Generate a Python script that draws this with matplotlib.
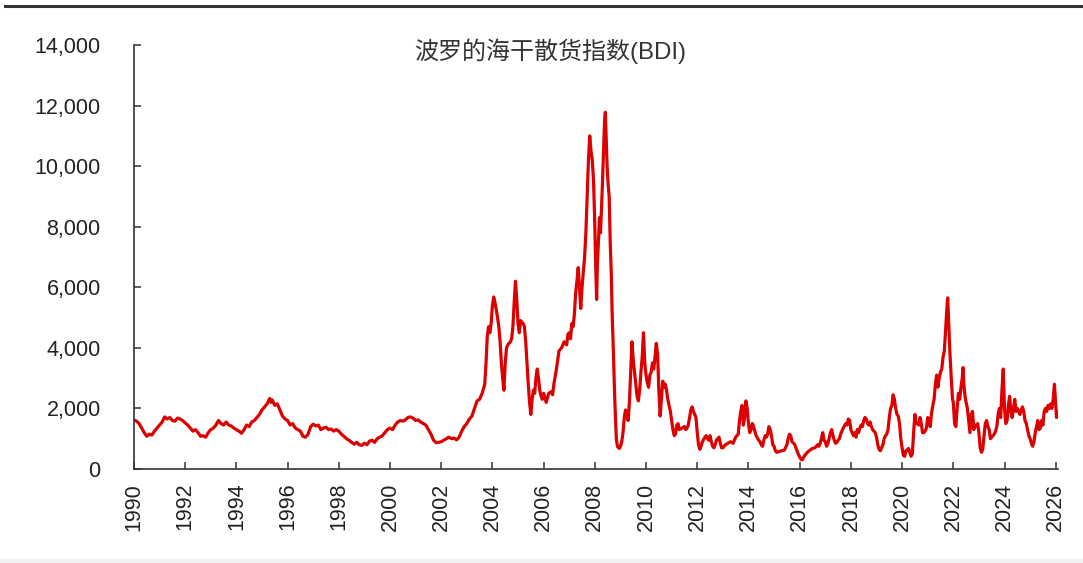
import matplotlib
matplotlib.use("Agg")
import matplotlib.pyplot as plt
from matplotlib.lines import Line2D
from matplotlib.patches import Rectangle

# --- data: BDI (decimal year, index level) ------------------------------------
t = [
    1990.0, 1990.1, 1990.2, 1990.3, 1990.4, 1990.5, 1990.6, 1990.7, 1990.8, 1990.9,
    1991.0, 1991.1, 1991.2, 1991.3, 1991.4, 1991.5, 1991.6, 1991.7, 1991.8, 1991.9,
    1992.0, 1992.1, 1992.2, 1992.3, 1992.4, 1992.5, 1992.6, 1992.7, 1992.8, 1992.9,
    1993.0, 1993.1, 1993.2, 1993.3, 1993.4, 1993.5, 1993.6, 1993.7, 1993.8, 1993.9,
    1994.0, 1994.1, 1994.2, 1994.3, 1994.4, 1994.5, 1994.6, 1994.7, 1994.8, 1994.9,
    1995.0, 1995.1, 1995.2, 1995.3, 1995.35, 1995.4, 1995.5, 1995.6, 1995.7, 1995.8, 1995.9,
    1996.0, 1996.1, 1996.2, 1996.3, 1996.4, 1996.5, 1996.6, 1996.7, 1996.8, 1996.9,
    1997.0, 1997.1, 1997.2, 1997.3, 1997.4, 1997.5, 1997.6, 1997.7, 1997.8, 1997.9,
    1998.0, 1998.1, 1998.2, 1998.3, 1998.4, 1998.5, 1998.6, 1998.7, 1998.8, 1998.9,
    1999.0, 1999.1, 1999.2, 1999.3, 1999.4, 1999.5, 1999.6, 1999.7, 1999.8, 1999.9,
    2000.0, 2000.1, 2000.2, 2000.3, 2000.4, 2000.5, 2000.6, 2000.7, 2000.8, 2000.9,
    2001.0, 2001.1, 2001.2, 2001.3, 2001.4, 2001.5, 2001.6, 2001.7, 2001.8, 2001.9,
    2002.0, 2002.1, 2002.2, 2002.3, 2002.4, 2002.5, 2002.6, 2002.7, 2002.8, 2002.9,
    2003.0, 2003.1, 2003.2, 2003.3, 2003.4, 2003.5, 2003.6, 2003.7, 2003.75, 2003.8, 2003.85, 2003.9, 2003.95,
    2004.0, 2004.05, 2004.1, 2004.15, 2004.2, 2004.25, 2004.3, 2004.35, 2004.4, 2004.45,
    2004.5, 2004.55, 2004.6, 2004.7, 2004.75, 2004.8, 2004.85, 2004.9, 2004.95,
    2005.0, 2005.05, 2005.1, 2005.2, 2005.25, 2005.3, 2005.35, 2005.4, 2005.45, 2005.5,
    2005.55, 2005.6, 2005.65, 2005.7, 2005.75, 2005.8, 2005.85, 2005.9, 2005.95,
    2006.0, 2006.1, 2006.2, 2006.3, 2006.35, 2006.4, 2006.5, 2006.6, 2006.7, 2006.8, 2006.9, 2006.95,
    2007.0, 2007.05, 2007.1, 2007.15, 2007.2, 2007.25, 2007.3, 2007.35, 2007.4, 2007.45,
    2007.5, 2007.55, 2007.6, 2007.65, 2007.7, 2007.75, 2007.8, 2007.85, 2007.9, 2007.95,
    2008.0, 2008.04, 2008.07, 2008.1, 2008.14, 2008.18, 2008.22, 2008.26, 2008.3, 2008.34, 2008.38, 2008.41, 2008.44,
    2008.48, 2008.52, 2008.56, 2008.6, 2008.64, 2008.68, 2008.72, 2008.76, 2008.8, 2008.84, 2008.88, 2008.92, 2008.96,
    2009.0, 2009.05, 2009.1, 2009.15, 2009.2, 2009.25, 2009.3, 2009.35, 2009.4, 2009.45,
    2009.5, 2009.55, 2009.6, 2009.65, 2009.7, 2009.75, 2009.8, 2009.85, 2009.9, 2009.95,
    2010.0, 2010.05, 2010.1, 2010.15, 2010.2, 2010.25, 2010.3, 2010.35, 2010.4, 2010.45,
    2010.5, 2010.55, 2010.6, 2010.65, 2010.7, 2010.75, 2010.8, 2010.85, 2010.9, 2010.95,
    2011.0, 2011.05, 2011.1, 2011.15, 2011.2, 2011.25, 2011.3, 2011.4, 2011.5, 2011.55,
    2011.6, 2011.65, 2011.7, 2011.75, 2011.8, 2011.85, 2011.9, 2011.95,
    2012.0, 2012.05, 2012.1, 2012.15, 2012.2, 2012.3, 2012.35, 2012.4, 2012.45, 2012.5,
    2012.55, 2012.6, 2012.65, 2012.7, 2012.75, 2012.8, 2012.85, 2012.9, 2012.95,
    2013.0, 2013.1, 2013.2, 2013.3, 2013.4, 2013.5, 2013.55, 2013.6, 2013.65, 2013.7,
    2013.75, 2013.8, 2013.85, 2013.9, 2013.95,
    2014.0, 2014.05, 2014.1, 2014.15, 2014.2, 2014.3, 2014.4, 2014.45, 2014.5, 2014.55,
    2014.6, 2014.65, 2014.7, 2014.75, 2014.8, 2014.85, 2014.9, 2014.95,
    2015.0, 2015.05, 2015.1, 2015.15, 2015.2, 2015.3, 2015.4, 2015.5, 2015.55, 2015.6,
    2015.65, 2015.7, 2015.8, 2015.85, 2015.9, 2015.95,
    2016.0, 2016.05, 2016.1, 2016.15, 2016.2, 2016.3, 2016.4, 2016.5, 2016.6, 2016.7,
    2016.75, 2016.8, 2016.85, 2016.9, 2016.95,
    2017.0, 2017.05, 2017.1, 2017.15, 2017.2, 2017.25, 2017.3, 2017.35, 2017.4, 2017.45,
    2017.5, 2017.55, 2017.6, 2017.7, 2017.8, 2017.85, 2017.9, 2017.95,
    2018.0, 2018.05, 2018.1, 2018.15, 2018.2, 2018.25, 2018.3, 2018.35, 2018.4, 2018.45,
    2018.5, 2018.55, 2018.6, 2018.65, 2018.7, 2018.75, 2018.8, 2018.85, 2018.9, 2018.95,
    2019.0, 2019.05, 2019.1, 2019.15, 2019.2, 2019.25, 2019.3, 2019.35, 2019.4, 2019.45,
    2019.5, 2019.55, 2019.6, 2019.65, 2019.7, 2019.75, 2019.8, 2019.85, 2019.9, 2019.95,
    2020.0, 2020.05, 2020.1, 2020.15, 2020.2, 2020.25, 2020.3, 2020.35, 2020.4, 2020.45,
    2020.5, 2020.55, 2020.6, 2020.65, 2020.7, 2020.75, 2020.8, 2020.85, 2020.9, 2020.95,
    2021.0, 2021.05, 2021.1, 2021.15, 2021.2, 2021.25, 2021.3, 2021.35, 2021.4, 2021.45,
    2021.5, 2021.55, 2021.6, 2021.65, 2021.7, 2021.75, 2021.78, 2021.82, 2021.87, 2021.92, 2021.97,
    2022.0, 2022.05, 2022.1, 2022.15, 2022.2, 2022.25, 2022.3, 2022.35, 2022.38, 2022.42,
    2022.46, 2022.5, 2022.55, 2022.6, 2022.65, 2022.7, 2022.75, 2022.8, 2022.85, 2022.9, 2022.95,
    2023.0, 2023.05, 2023.1, 2023.15, 2023.2, 2023.25, 2023.3, 2023.35, 2023.4, 2023.45,
    2023.5, 2023.55, 2023.6, 2023.65, 2023.7, 2023.75, 2023.8, 2023.85, 2023.9, 2023.95,
    2024.0, 2024.05, 2024.1, 2024.15, 2024.2, 2024.25, 2024.3, 2024.35, 2024.4, 2024.45,
    2024.5, 2024.55, 2024.6, 2024.65, 2024.7, 2024.75, 2024.8, 2024.85, 2024.9, 2024.95,
    2025.0, 2025.05, 2025.1, 2025.15, 2025.2, 2025.25, 2025.3, 2025.35, 2025.4, 2025.45,
    2025.5, 2025.55, 2025.6, 2025.65, 2025.7, 2025.75, 2025.8, 2025.85, 2025.9, 2025.95,
    2026.0, 2026.03, 2026.06,
]
bdi = [
    1620, 1580, 1500, 1350, 1200, 1080, 1150, 1120, 1250, 1350,
    1450, 1550, 1720, 1650, 1700, 1600, 1580, 1680, 1650, 1600,
    1520, 1450, 1350, 1250, 1300, 1200, 1080, 1100, 1050, 1200,
    1300, 1350, 1450, 1600, 1500, 1450, 1550, 1450, 1420, 1350,
    1300, 1250, 1180, 1300, 1450, 1400, 1550, 1600, 1700, 1800,
    1950, 2050, 2150, 2330, 2200, 2280, 2100, 2150, 1950, 1750, 1650,
    1600, 1450, 1500, 1350, 1300, 1250, 1080, 1050, 1150, 1400,
    1480, 1420, 1450, 1300, 1350, 1380, 1300, 1320, 1250, 1300,
    1250, 1150, 1080, 1000, 950, 880, 820, 880, 800, 780,
    850, 800, 920, 950, 880, 1000, 1050, 1100, 1200, 1300,
    1350, 1300, 1450, 1550, 1600, 1580, 1620, 1700, 1720, 1680,
    1600, 1620, 1550, 1500, 1450, 1300, 1150, 950, 870, 880,
    900, 950, 1000, 1050, 1000, 1020, 960, 1050, 1250, 1400,
    1500, 1650, 1750, 2000, 2250, 2300, 2500, 2800, 3500, 4400, 4700, 4500, 4800,
    5400, 5680, 5500, 5250, 5000, 4700, 4200, 3500, 3000, 2600,
    3500, 4000, 4100, 4200, 4300, 4700, 5500, 6200, 5600,
    4800, 4500, 4900, 4800, 4700, 4200, 3500, 2800, 2200, 1800,
    2300, 2600, 2500, 3000, 3300, 3000, 2600, 2400, 2300,
    2500, 2200, 2500, 2550, 2450, 2800, 3300, 3900, 4000, 4200, 4100, 4450,
    4500, 4300, 4800, 4700, 5100, 5800, 6200, 6650, 6000, 5300,
    6000, 6500, 7000, 7800, 9000, 10200, 11000, 10500, 10200, 9500,
    8000, 6500, 5600, 6800, 7500, 8300, 7800, 8600, 9500, 10500, 11500, 11780, 11000,
    10000, 9400, 9000, 7500, 6500, 5000, 4000, 2800, 1800, 1000, 750, 700, 680,
    750, 900, 1200, 1700, 1950, 1800, 1600, 2200, 3200, 4200,
    3600, 3200, 2800, 2400, 2250, 2600, 3200, 3700, 4500, 3500,
    3100, 2850, 2700, 3100, 3200, 3500, 3300, 3700, 4150, 3800,
    2600, 1750, 2300, 2900, 2700, 2800, 2600, 2300, 2100, 1900,
    1600, 1300, 1100, 1150, 1450, 1500, 1300, 1350, 1400, 1300,
    1350, 1450, 1700, 1950, 2050, 1900, 1800, 1700,
    1200, 800, 650, 750, 900, 1050, 1100, 1000, 950, 1100,
    900, 750, 700, 800, 950, 1000, 1050, 850, 700,
    700, 800, 850, 900, 850, 1050, 1100, 1150, 1600, 1900,
    2100, 1450, 1700, 2250, 2000,
    1500, 1200, 1300, 1500, 1400, 1100, 950, 900, 800, 750,
    950, 1100, 1050, 1150, 1400, 1300, 1100, 800,
    750, 600, 550, 560, 580, 600, 620, 800, 1000, 1150,
    1100, 900, 820, 700, 600, 480,
    400, 320, 300, 380, 450, 550, 620, 680, 700, 800,
    750, 850, 1000, 1200, 950,
    900, 750, 850, 1000, 1200, 1300, 1100, 950, 850, 880,
    950, 1000, 1150, 1350, 1500, 1450, 1650, 1600,
    1300, 1200, 1100, 1200, 1050, 1300, 1200, 1350, 1450, 1400,
    1600, 1700, 1650, 1500, 1450, 1550, 1400, 1300, 1250, 1200,
    1050, 800, 650, 600, 700, 800, 1000, 1100, 1150, 1300,
    1700, 2000, 2100, 2450, 2300, 2000, 1800, 1750, 1500, 1000,
    700, 450, 420, 600, 620, 680, 550, 420, 500, 1200,
    1800, 1500, 1500, 1450, 1700, 1500, 1200, 1200, 1250, 1350,
    1700, 1600, 1400, 1850, 2100, 2300, 2800, 3100, 2700, 3000,
    3200, 3300, 3700, 3900, 4600, 5300, 5650, 4800, 3800, 3000, 2300,
    2200, 1500, 1400, 2000, 2500, 2300, 2700, 3000, 3350, 2700,
    2400, 2200, 2000, 1600, 1200, 1800, 1900, 1300, 1450, 1400, 1500,
    1200, 700, 550, 650, 1100, 1500, 1600, 1400, 1300, 1000,
    1050, 1100, 1150, 1250, 1400, 1800, 2000, 1700, 2600, 3300,
    2000, 1500, 1600, 2100, 2400, 1900, 1700, 2000, 2300, 1900,
    2000, 1900, 1800, 1950, 2050, 1900, 1600, 1500, 1300, 1100,
    1000, 850, 750, 900, 1200, 1400, 1600, 1300, 1350, 1600,
    1450, 1900, 2000, 1900, 2100, 2000, 2150, 2000, 2300, 2800,
    2100, 1700, 1900,
]

x_ticks = list(range(1990, 2027, 2))
y_ticks = list(range(0, 14001, 2000))
title = "波罗的海干散货指数(BDI)"

# --- figure -------------------------------------------------------------------
plt.rcParams["font.family"] = ["Liberation Sans", "Noto Sans CJK SC", "DejaVu Sans"]

fig = plt.figure(figsize=(10.83, 5.63), dpi=100)
ax = fig.add_axes([0.1237, 0.167, 0.853, 0.753])

ax.plot(t, bdi, color="#dd0000", lw=2.3, solid_joinstyle="round")

ax.set_xlim(1990, 2026.08)
ax.set_ylim(0, 14000)
ax.set_xticks(x_ticks)
ax.set_xticklabels([str(y) for y in x_ticks], rotation=90)
ax.set_yticks(y_ticks)
ax.set_yticklabels([f"{v:,}" for v in y_ticks])

for side in ["top", "right"]:
    ax.spines[side].set_visible(False)
for side in ["left", "bottom"]:
    ax.spines[side].set_color("#333333")
    ax.spines[side].set_linewidth(1.2)

ax.tick_params(axis="x", direction="in", length=5, width=1.1, color="#333333",
               labelsize=15.5, labelcolor="#222222", pad=10)
ax.tick_params(axis="y", direction="in", length=5, width=1.1, color="#333333",
               labelsize=15.5, labelcolor="#222222", pad=24)

ax.text(0.45, 0.985, title, transform=ax.transAxes, ha="center", va="center",
        fontsize=17.3, color="#333333")

# report header rule at the very top, faint footer band at the bottom
fig.add_artist(Line2D([0.005, 1.0], [0.990, 0.990], transform=fig.transFigure,
                      color="#333333", lw=2.2))
fig.add_artist(Rectangle((0, 0), 1, 4 / 563, transform=fig.transFigure,
                         color="#f2f2f2", lw=0))

fig.savefig("out.png", dpi=100)
